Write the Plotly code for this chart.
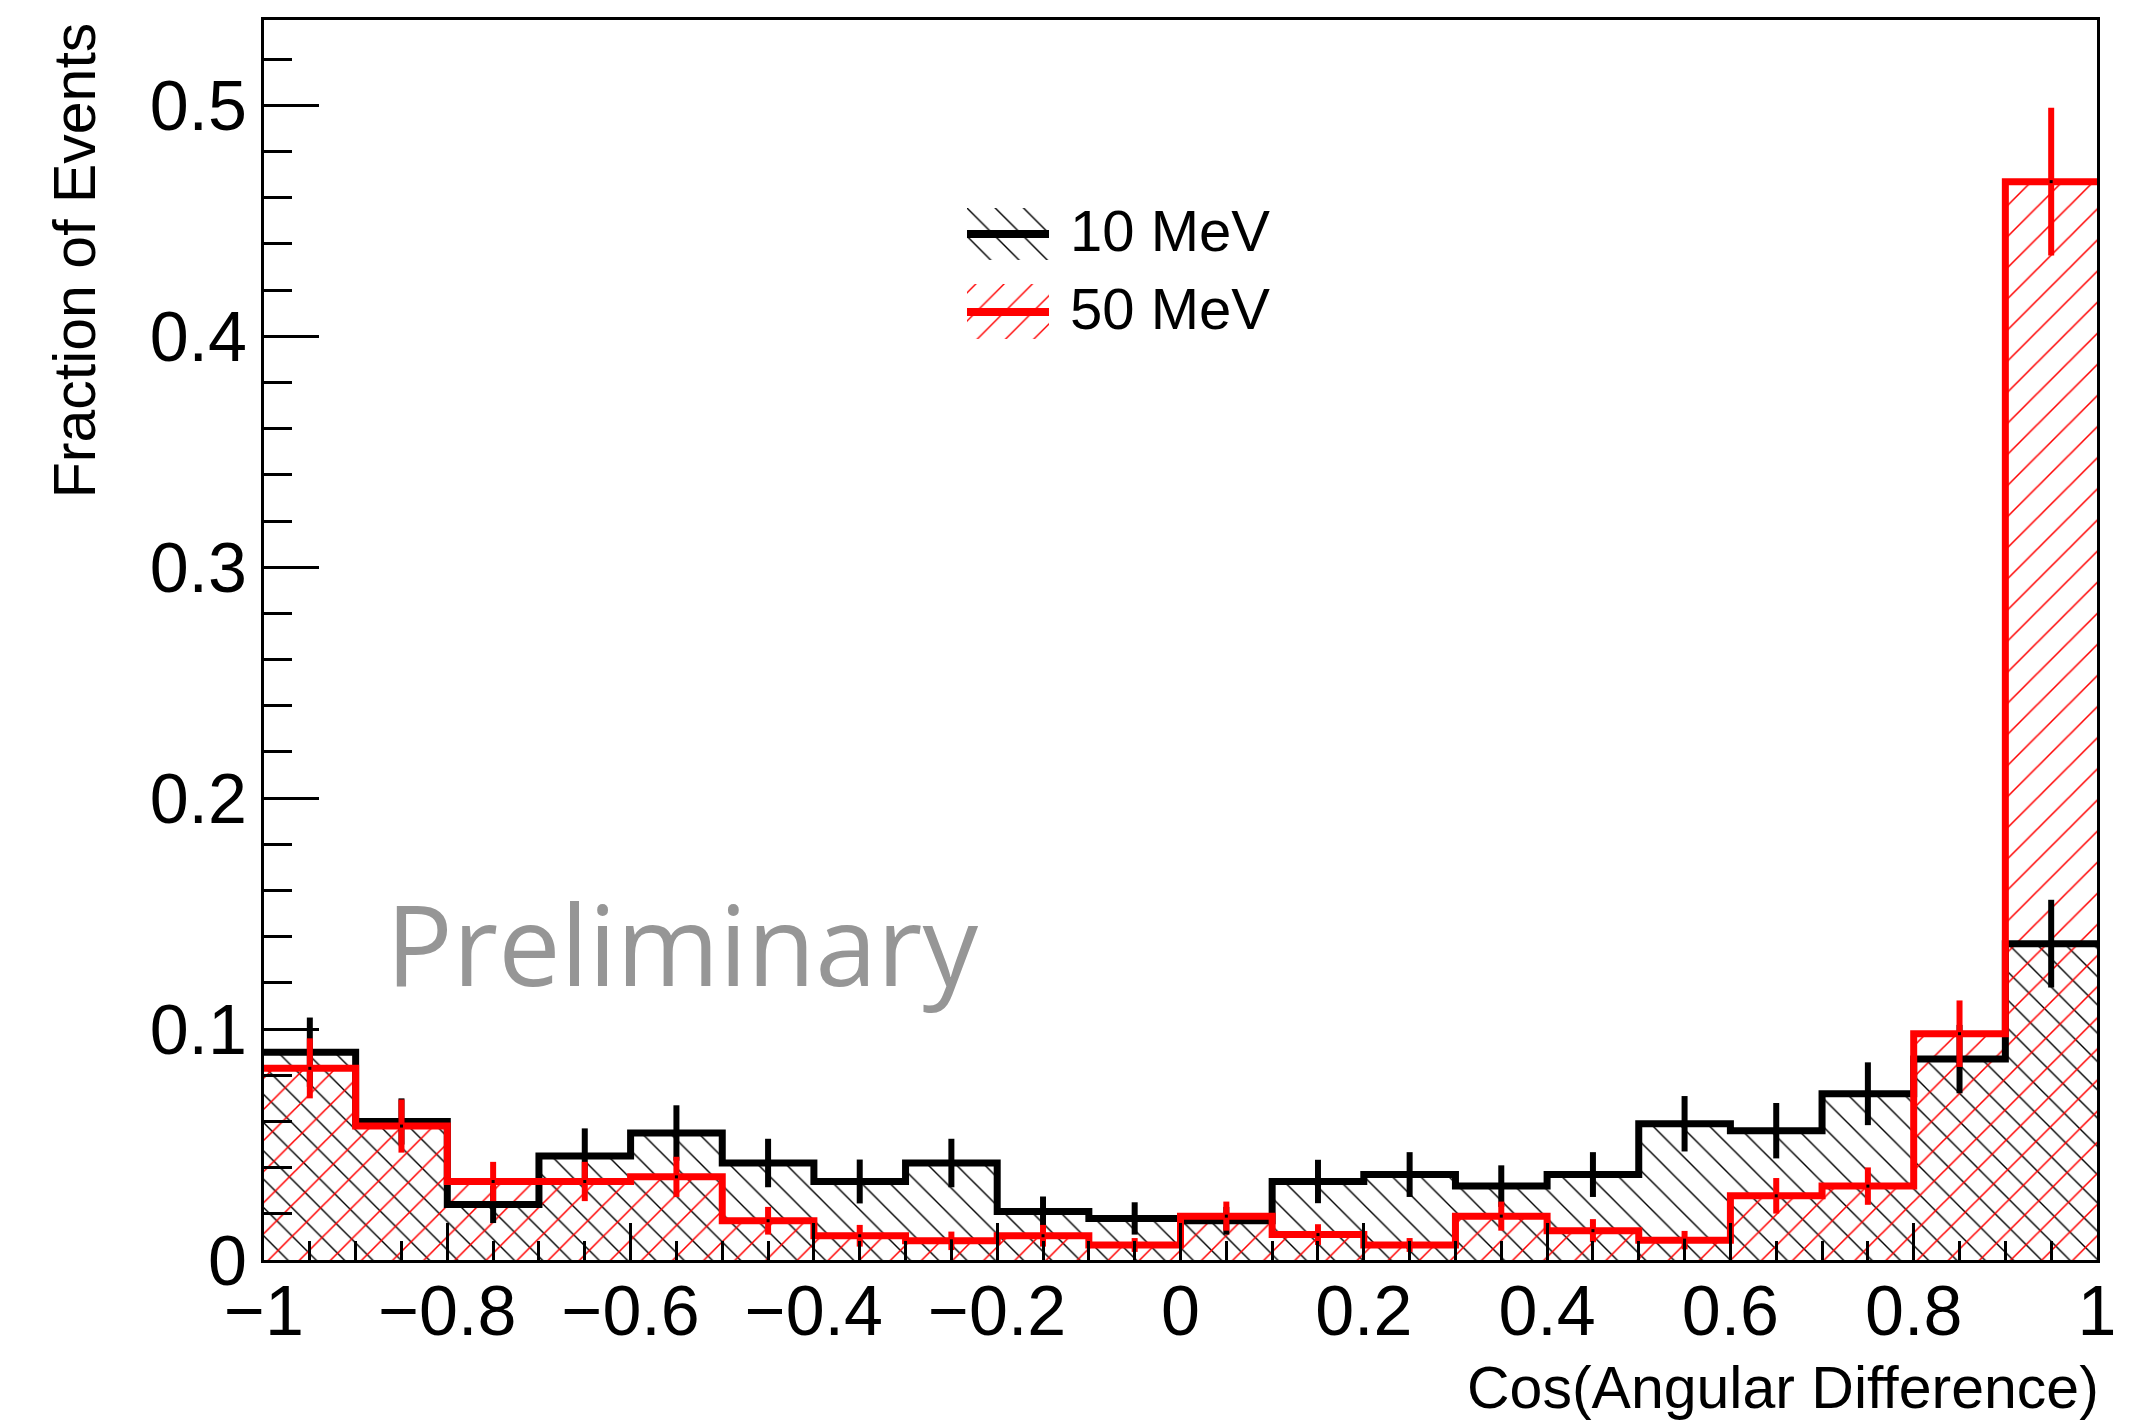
import plotly.graph_objects as go

# ---------------- data ----------------
bin_edges = [-1.0, -0.9, -0.8, -0.7, -0.6, -0.5, -0.4, -0.3, -0.2, -0.1, 0.0,
             0.1, 0.2, 0.3, 0.4, 0.5, 0.6, 0.7, 0.8, 0.9, 1.0]
bin_centers = [-0.95, -0.85, -0.75, -0.65, -0.55, -0.45, -0.35, -0.25, -0.15, -0.05,
               0.05, 0.15, 0.25, 0.35, 0.45, 0.55, 0.65, 0.75, 0.85, 0.95]

mev10_vals = [0.090, 0.060, 0.024, 0.045, 0.055, 0.042, 0.034, 0.042, 0.021, 0.018,
              0.017, 0.034, 0.037, 0.032, 0.037, 0.059, 0.056, 0.072, 0.087, 0.137]
mev10_errs = [0.015, 0.010, 0.008, 0.012, 0.012, 0.0105, 0.0095, 0.0105, 0.0065, 0.007,
              0.006, 0.0094, 0.0097, 0.009, 0.0097, 0.012, 0.012, 0.0136, 0.0148, 0.019]

mev50_vals = [0.083, 0.058, 0.034, 0.034, 0.036, 0.017, 0.0105, 0.0083, 0.0105, 0.0065,
              0.019, 0.011, 0.0065, 0.019, 0.0127, 0.0086, 0.0278, 0.032, 0.098, 0.467]
mev50_errs = [0.013, 0.0115, 0.0085, 0.0085, 0.0087, 0.006, 0.0047, 0.004, 0.0047, 0.003,
              0.0063, 0.0045, 0.003, 0.0063, 0.005, 0.004, 0.0077, 0.0081, 0.0144, 0.032]

series_names = ["10 MeV", "50 MeV"]
x_title = "Cos(Angular Difference)"
y_title = "Fraction of Events"
watermark = "Preliminary"

FONT = "Liberation Sans, Arial, Helvetica, sans-serif"
RED = "#ff0000"
BLACK = "#000000"

fig = go.Figure()


def add_hist(vals, errs, color, shape, size):
    bin_width = bin_edges[1] - bin_edges[0]
    fig.add_trace(go.Bar(
        x=bin_centers, y=vals, width=bin_width,
        marker=dict(color=color, line=dict(width=0),
                    pattern=dict(shape=shape, size=size, solidity=0.07,
                                 fgcolor=color, fillmode="replace")),
        showlegend=False, hoverinfo="skip"))
    fig.add_trace(go.Scatter(
        x=bin_edges, y=vals + [vals[-1]], mode="lines",
        line=dict(shape="hv", color=color, width=7),
        showlegend=False, hoverinfo="skip"))
    fig.add_trace(go.Scatter(
        x=bin_centers, y=vals, mode="markers",
        marker=dict(size=3, color=BLACK, symbol="square"),
        error_y=dict(type="data", array=errs, width=0, thickness=6, color=color),
        showlegend=False, hoverinfo="skip"))


add_hist(mev10_vals, mev10_errs, BLACK, "\\", 20)
add_hist(mev50_vals, mev50_errs, RED, "/", 22)

# --------- legend (hatched boxes on a hidden auxiliary axis) ---------
legend_heights = [52, 55]
legend_bases = [79, 0]
legend_line_y = [105, 27]
legend_colors = [BLACK, RED]
legend_shapes = ["\\", "/"]
for h, b, c, s, ly, name, ty in zip(legend_heights, legend_bases, legend_colors,
                                    legend_shapes, legend_line_y, series_names,
                                    [0.8306, 0.7677]):
    fig.add_trace(go.Bar(
        x=[0.5], y=[h], base=[b], width=1.0, xaxis="x2", yaxis="y2",
        marker=dict(color=c, line=dict(width=0),
                    pattern=dict(shape=s, size=20, solidity=0.07, fgcolor=c,
                                 fillmode="replace")),
        showlegend=False, hoverinfo="skip"))
    fig.add_shape(type="line", xref="x2", yref="y2", x0=0, x1=1, y0=ly, y1=ly,
                  line=dict(color=c, width=8))
    fig.add_annotation(text=name, xref="paper", yref="paper", x=0.4386, y=ty,
                       xanchor="left", yanchor="middle", showarrow=False,
                       font=dict(family=FONT, size=58, color=BLACK))

# --------- texts ---------
fig.add_annotation(text=watermark, xref="paper", yref="paper", x=0.0655, y=0.2556,
                   xanchor="left", yanchor="middle", showarrow=False,
                   font=dict(family="Open Sans, sans-serif", size=111,
                             color="#969696"))
fig.add_annotation(text=y_title, xref="paper", yref="paper", x=-0.103, y=1.0,
                   xanchor="center", yanchor="top", textangle=-90, showarrow=False,
                   font=dict(family=FONT, size=59, color=BLACK))
fig.add_annotation(text=x_title, xref="paper", yref="paper", x=1.002, y=-0.103,
                   xanchor="right", yanchor="middle", showarrow=False,
                   font=dict(family=FONT, size=59, color=BLACK))

fig.update_layout(
    width=2142, height=1421,
    margin=dict(l=264, r=45, t=20, b=161),
    paper_bgcolor="white", plot_bgcolor="white",
    barmode="overlay", bargap=0,
    showlegend=False,
    xaxis=dict(range=[-1, 1], tick0=-1, dtick=0.2, ticks="inside", ticklen=37,
               tickwidth=2.5, tickcolor=BLACK, showgrid=False, zeroline=False,
               showline=True, linewidth=3, linecolor=BLACK, mirror=True,
               tickfont=dict(family=FONT, size=70, color=BLACK),
               ticklabelstandoff=-12,
               minor=dict(ticks="inside", dtick=0.05, tick0=-1, ticklen=19,
                          tickwidth=2.5, tickcolor=BLACK, showgrid=False)),
    yaxis=dict(range=[0, 0.537], tick0=0, dtick=0.1, ticks="inside", ticklen=55,
               tickwidth=2.5, tickcolor=BLACK, showgrid=False, zeroline=False,
               showline=True, linewidth=3, linecolor=BLACK, mirror=True,
               tickfont=dict(family=FONT, size=70, color=BLACK),
               minor=dict(ticks="inside", dtick=0.02, tick0=0, ticklen=28,
                          tickwidth=2.5, tickcolor=BLACK, showgrid=False)),
    xaxis2=dict(domain=[0.3835, 0.4283], range=[0, 1], anchor="y2",
                visible=False, showgrid=False, zeroline=False),
    yaxis2=dict(domain=[0.7427, 0.8484], range=[0, 131], anchor="x2",
                visible=False, showgrid=False, zeroline=False),
)

fig.write_html("out.html")
